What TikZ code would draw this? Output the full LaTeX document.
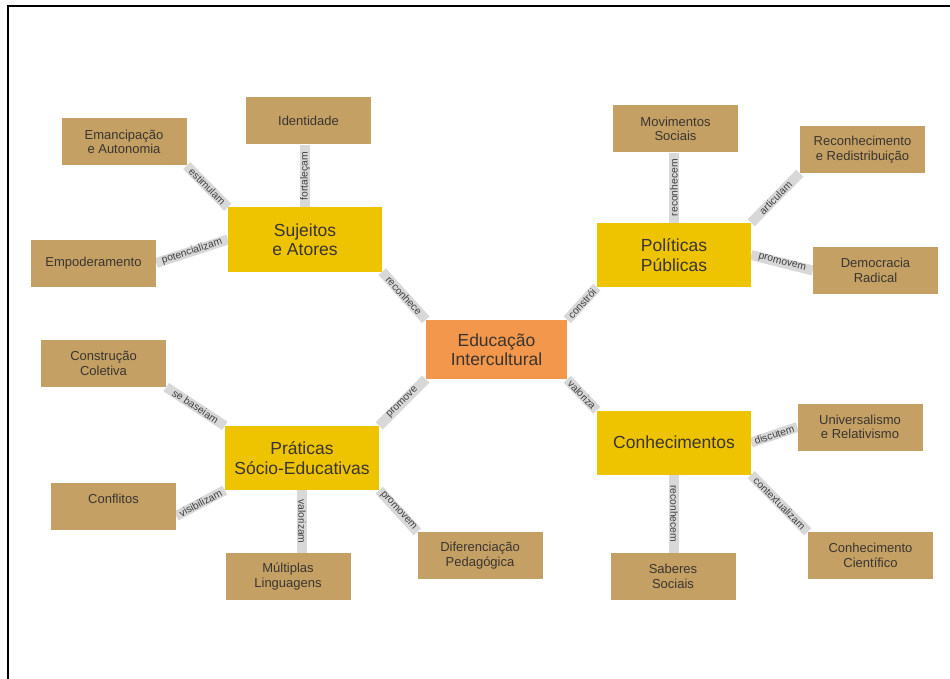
\documentclass[tikz,border=0pt]{standalone}
\usepackage{fontspec}
\setmainfont{Liberation Sans}
\usetikzlibrary{backgrounds}
\definecolor{tanc}{HTML}{C4A064}
\definecolor{yel}{HTML}{EEC300}
\definecolor{ora}{HTML}{F2974B}
\definecolor{barc}{HTML}{D8D8D8}
\definecolor{txt}{HTML}{3A3530}
\begin{document}
\begin{tikzpicture}[x=1pt,y=-1pt,
  leaf/.style={fill=tanc, minimum width=125pt, minimum height=47pt, align=center,
    font=\fontsize{13}{14.5}\selectfont, text=txt, inner sep=0pt},
  hub/.style={fill=yel, minimum width=154pt, minimum height=64pt, align=center,
    font=\fontsize{17.5}{19.5}\selectfont, text=txt, inner sep=0pt},
  core/.style={fill=ora, minimum width=141pt, minimum height=59pt, align=center,
    font=\fontsize{17.5}{19.5}\selectfont, text=txt, inner sep=0pt},
  link/.style={draw=barc, line width=10pt},
  lbl/.style={sloped, midway, font=\fontsize{10.3}{11}\selectfont, text=black!75, inner sep=0pt}
]
\useasboundingbox (0,0) rectangle (950,679);
\draw[black, line width=2pt] (8,679) -- (8,6) -- (950,6);

% central
\node[core] (edu) at (496.5,349.5) {Educação\\Intercultural};
% hubs
\node[hub] (suj) at (305,239.5) {Sujeitos\\e Atores};
\node[hub] (pol) at (674,255) {Políticas\\Públicas};
\node[hub] (prat) at (302,458) {Práticas\\Sócio-Educativas};
\node[hub] (con) at (674,442.5) {Conhecimentos};
% leaves
\node[leaf] (id) at (308.5,121) {Identidade};
\node[leaf] (eman) at (124,142) {Emancipação\\e Autonomia};
\node[leaf] (emp) at (93.5,263) {Empoderamento};
\node[leaf] (mov) at (675.5,129) {Movimentos\\Sociais};
\node[leaf] (rec) at (862.5,149.5) {Reconhecimento\\e Redistribuição};
\node[leaf] (dem) at (875.5,270.5) {Democracia\\Radical};
\node[leaf] (cons) at (103.5,363.5) {Construção\\Coletiva};
\node[leaf] (conf) at (113.5,506) {Conflitos\\\mbox{}};
\node[leaf] (mult) at (288,576.5) {Múltiplas\\Linguagens};
\node[leaf] (dif) at (480,555.5) {Diferenciação\\Pedagógica};
\node[leaf] (uni) at (860,427) {Universalismo\\e Relativismo};
\node[leaf] (cien) at (870.5,555.5) {Conhecimento\\Científico};
\node[leaf] (sab) at (673,576.5) {Saberes\\Sociais};

\begin{pgfonlayer}{background}
% center links
\draw[link] (suj.south east) -- node[lbl]{reconhece} (edu.north west);
\draw[link] (edu.north east) -- node[lbl]{constrói} (pol.south west);
\draw[link] (edu.south west) -- node[lbl]{promove} (prat.north east);
\draw[link] (edu.south east) -- node[lbl]{valoriza} (con.north west);
% sujeitos
\draw[link] (eman.south east) -- node[lbl]{estimulam} (suj.north west);
\draw[link] (suj.north) -- node[lbl]{fortaleçam} (suj.north |- id.south);
\draw[link] (emp.east) -- node[lbl]{potencializam} (suj.west);
% politicas
\draw[link] (pol.north) -- node[lbl]{reconhecem} (pol.north |- mov.south);
\draw[link] (pol.north east) -- node[lbl]{articulam} (rec.south west);
\draw[link] (pol.east) -- node[lbl]{promovem} (dem.west);
% praticas
\draw[link] (cons.south east) -- node[lbl]{se baseiam} (prat.north west);
\draw[link] ([yshift=-10pt]conf.east) -- node[lbl]{visibilizam} (prat.south west);
\draw[link] (prat.south) -- node[lbl]{valorizam} (prat.south |- mult.north);
\draw[link] (prat.south east) -- node[lbl]{promovem} (dif.north west);
% conhecimentos
\draw[link] (con.east) -- node[lbl]{discutem} (uni.west);
\draw[link] (con.south) -- node[lbl]{reconhecem} (con.south |- sab.north);
\draw[link] (con.south east) -- node[lbl]{contextualizam} (cien.north west);
\end{pgfonlayer}
\end{tikzpicture}
\end{document}
